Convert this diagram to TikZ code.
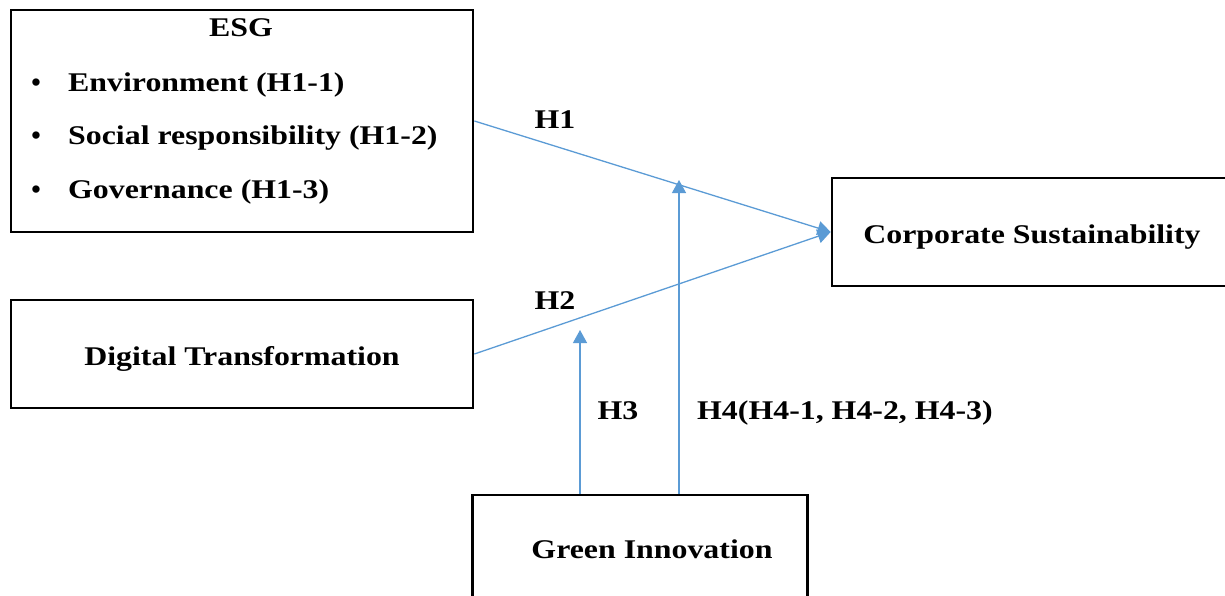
\documentclass[tikz,border=0pt]{standalone}
\usepackage{fontspec}
\usepackage{graphicx}
\setmainfont{Liberation Serif}
\usetikzlibrary{arrows.meta}
\definecolor{arrowblue}{RGB}{91,155,213}
\newcommand{\wt}[1]{\scalebox{1.18}[1]{#1}}
\tikzset{
  box/.style={draw=black, line width=2.8pt, rectangle, inner sep=0pt},
  lbl/.style={font=\fontsize{27}{31}\selectfont\bfseries, inner sep=0pt, anchor=base},
  lbll/.style={font=\fontsize{27}{31}\selectfont\bfseries, inner sep=0pt, anchor=base west},
  arr/.style={draw=arrowblue, line width=1.3pt, -{Triangle[length=13pt,width=14pt]}},
}
\begin{document}
\begin{tikzpicture}[x=1pt,y=-1pt]
\useasboundingbox (0,0) rectangle (1225,596);
\clip (0,0) rectangle (1225,596);
% boxes
\node[box, minimum width=462pt, minimum height=222pt] (esg) at (242,121) {};
\node[box, minimum width=462pt, minimum height=108pt] (dt) at (242,354) {};
\node[box, minimum width=420pt, minimum height=108pt] (cs) at (1042,232) {};
\node[box, minimum width=335pt, minimum height=140pt] (gi) at (640,565) {};
% texts
\node[lbl] (esgt) at (241,37) {\wt{ESG}};
\node[lbl] (b1) at (36,92) {•};
\node[lbl] (b2) at (36,145) {•};
\node[lbl] (b3) at (36,198) {•};
\node[lbll] (e1) at (68,92) {\wt{Environment (H1-1)}};
\node[lbll] (e2) at (68,145) {\wt{Social responsibility (H1-2)}};
\node[lbll] (e3) at (68,198) {\wt{Governance (H1-3)}};
\node[lbl] (dtt) at (242,365) {\wt{Digital Transformation}};
\node[lbl] (cst) at (1032,243) {\wt{Corporate Sustainability}};
\node[lbl] (git) at (652,558) {\wt{Green Innovation}};
% arrows
\coordinate (h3tip) at (580,330);
\coordinate (h4tip) at (679,180);
\draw[arr] (esg.east) -- (cs.west);
\draw[arr] (dt.east) -- (cs.west);
\draw[arr] (gi.north -| h3tip) -- (h3tip);
\draw[arr] (gi.north -| h4tip) -- (h4tip);
% arrow labels
\node[lbl] (h1) at (555,129) {\wt{H1}};
\node[lbl] (h2) at (555,309) {\wt{H2}};
\node[lbl] (h3) at (618,419) {\wt{H3}};
\node[lbll] (h4) at (697,419) {\wt{H4(H4-1, H4-2, H4-3)}};
\end{tikzpicture}
\end{document}
